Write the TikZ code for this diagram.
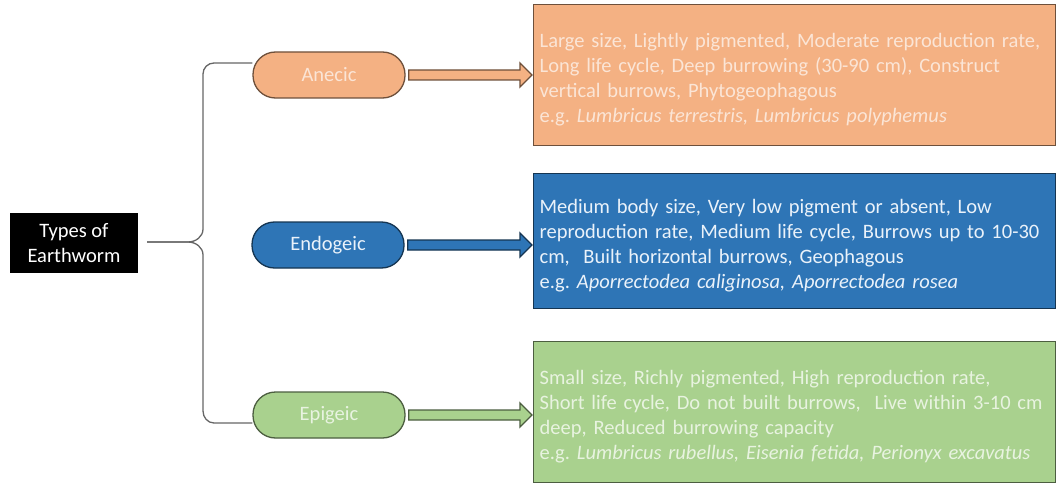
\documentclass[tikz,border=0pt]{standalone}
\usepackage{fontspec}
\setmainfont{Carlito}
\usetikzlibrary{calc}
\frenchspacing

\definecolor{anecicfill}{HTML}{F4B183}
\definecolor{anecictext}{HTML}{FBE5D6}
\definecolor{endogeicfill}{HTML}{2E75B6}
\definecolor{endogeictext}{HTML}{EAF2FA}
\definecolor{epigeicfill}{HTML}{A9D18E}
\definecolor{epigeictext}{HTML}{E8F3E0}

\newcommand\fatarrow[3]{\draw[draw=#3!45!black, fill=#3, line width=1.3pt, line join=miter]
  let \p1=(#1.east), \p2=(#2.west) in
  (\x1+3pt,\y1+5pt) -- (\x2-13pt,\y1+5pt) -- (\x2-13pt,\y1+12pt) -- (\x2-1pt,\y1)
  -- (\x2-13pt,\y1-12pt) -- (\x2-13pt,\y1-5pt) -- (\x1+3pt,\y1-5pt) -- cycle;}

\begin{document}
\begin{tikzpicture}[x=1pt, y=-1pt,
  every node/.style={font=\fontsize{20.5}{25}\selectfont},
  pill/.style={draw=#1!45!black, fill=#1, line width=1.3pt, rounded corners=22.5pt,
    minimum width=152pt, minimum height=46pt, inner sep=0pt},
  infobox/.style={draw=#1!45!black, fill=#1, line width=1.3pt, anchor=north west,
    text width=510pt, inner xsep=6pt, align=left, execute at begin node={\rule{0pt}{23pt}}},
  brace/.style={draw=black!60, line width=1.3pt}]
\useasboundingbox (0,0) rectangle (1057,484);

\node[fill=black, text=white, minimum width=128pt, minimum height=60pt, inner sep=0pt, align=center] (types) at (74,243) {Types of\\Earthworm};

\node[pill=anecicfill, text=anecictext] (anecic) at (329,75) {Anecic};
\node[pill=endogeicfill, text=endogeictext] (endogeic) at (328,245) {Endogeic};
\node[pill=epigeicfill, text=epigeictext] (epigeic) at (329,415) {Epigeic};

\node[infobox=anecicfill, text=anecictext, minimum height=141pt] (anecicbox) at (533,4) {Large size, Lightly pigmented, Moderate reproduction rate,\\Long life cycle, Deep burrowing (30-90 cm), Construct\\vertical burrows, Phytogeophagous\\e.g. \textit{Lumbricus terrestris, Lumbricus polyphemus}};
\node[infobox=endogeicfill, text=endogeictext, minimum height=135pt] (endogeicbox) at (533,173) {Medium body size, Very low pigment or absent, Low\\reproduction rate, Medium life cycle, Burrows up to 10-30\\cm, \ Built horizontal burrows, Geophagous\\e.g. \textit{Aporrectodea caliginosa, Aporrectodea rosea}};
\node[infobox=epigeicfill, text=epigeictext, minimum height=141pt] (epigeicbox) at (533,341) {Small size, Richly pigmented, High reproduction rate,\\Short life cycle, Do not built burrows, \ Live within 3-10 cm\\deep, Reduced burrowing capacity\\e.g. \textit{Lumbricus rubellus, Eisenia fetida, Perionyx excavatus}};

\coordinate (bracetip) at ($(types.east)+(9,-1)$);
\draw[brace] ($(anecic.west)+(0,-12)$) -- (214,63) to[out=180,in=90] (203,74) -- (203,229)
  to[out=-90,in=0] (188,242) -- (bracetip);
\draw[brace] (bracetip) -- (188,242) to[out=0,in=90] (203,255) -- (203,411)
  to[out=-90,in=180] (214,423) -- ($(epigeic.west)+(0,8)$);

\fatarrow{anecic}{anecicbox}{anecicfill}
\fatarrow{endogeic}{endogeicbox}{endogeicfill}
\fatarrow{epigeic}{epigeicbox}{epigeicfill}
\end{tikzpicture}
\end{document}
